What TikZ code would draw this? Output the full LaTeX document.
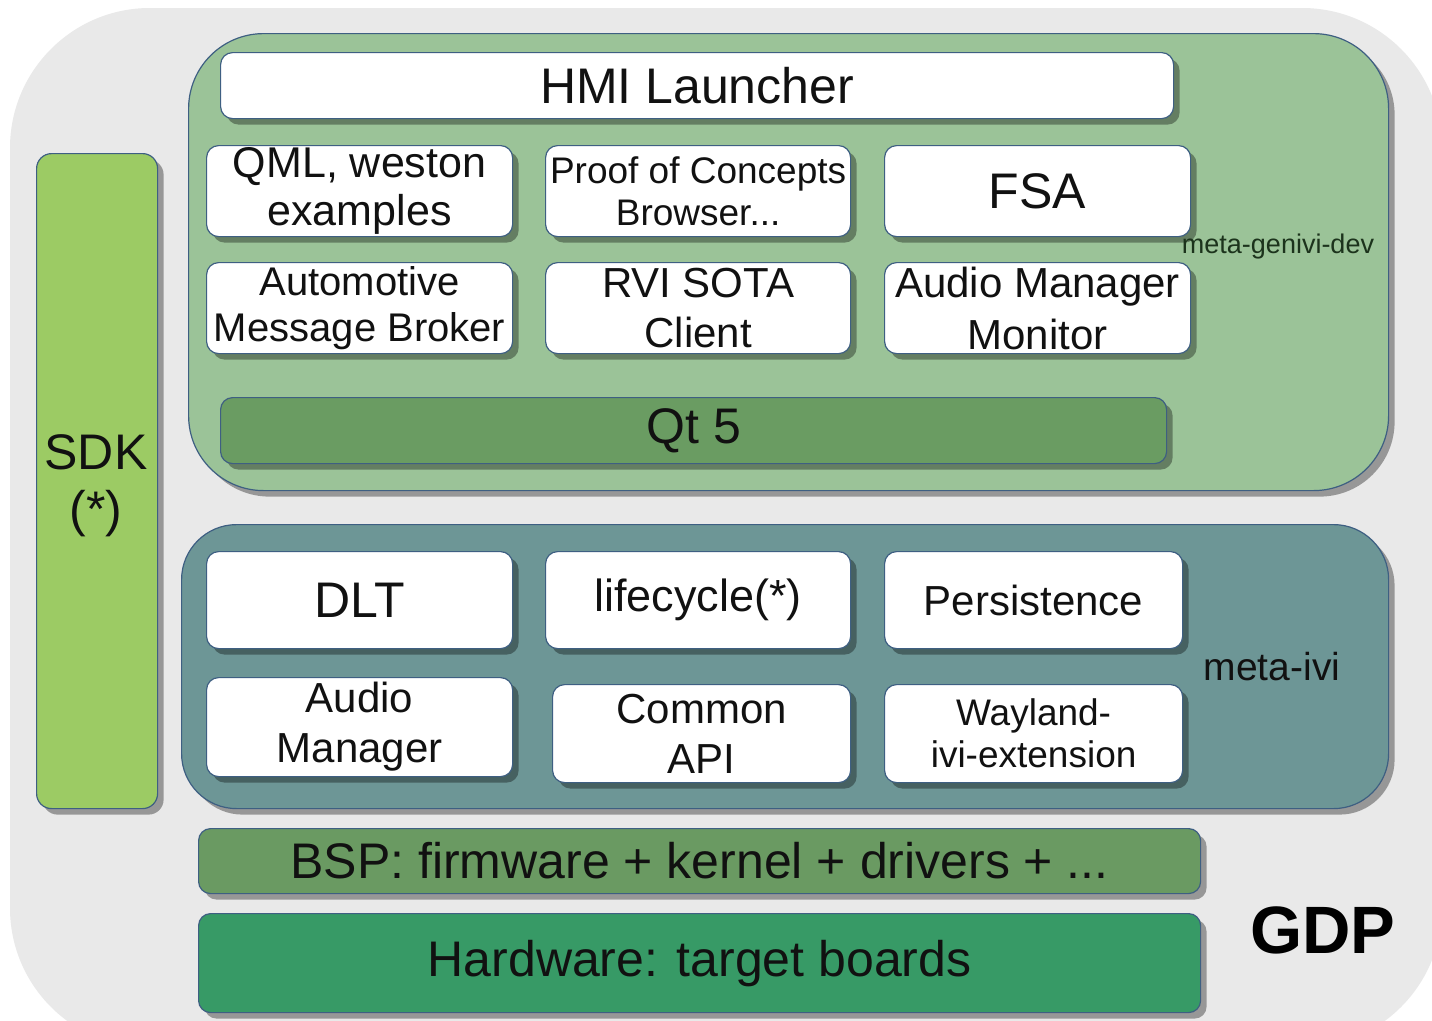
\documentclass[tikz,border=0pt]{standalone}
\usepackage{fontspec}
\setmainfont{Liberation Sans}
\usetikzlibrary{shadows}
\definecolor{bggray}{HTML}{E9E9E9}
\definecolor{edgeblue}{HTML}{3E5F82}
\definecolor{genivigreen}{HTML}{9BC398}
\definecolor{sdkgreen}{HTML}{9CCB64}
\definecolor{qtgreen}{HTML}{6A9C62}
\definecolor{ivigray}{HTML}{6D9696}
\definecolor{bspgreen}{HTML}{6A9A62}
\definecolor{hwgreen}{HTML}{379A66}
\definecolor{textc}{HTML}{111111}
\definecolor{labelgreen}{HTML}{1C331C}
\tikzset{
  edge/.style={draw=edgeblue, line width=1.2pt},
  shad/.style={drop shadow={shadow xshift=6pt, shadow yshift=-6pt, fill=black, opacity=0.35}},
  anybox/.style={edge, shad, anchor=north west, align=center, inner sep=0pt, text=textc},
  wbox/.style={anybox, fill=white, rounded corners=12pt},
  bar/.style={anybox, rounded corners=12pt},
  container/.style={anybox, rounded corners=#1},
  fA/.style={font=\fontsize{50}{57}\selectfont},
  fB/.style={font=\fontsize{42}{#1}\selectfont},
}
\begin{document}
\begin{tikzpicture}[x=1pt,y=-1pt]
\useasboundingbox (0,0) rectangle (1432,1020);
\clip (0,0) rectangle (1432,1020);
\fill[white] (0,0) rectangle (1432,1020);
% GDP background
\fill[bggray, rounded corners=140pt] (10,8) rectangle (1442,1048);

% SDK
\node[container=15pt, fill=sdkgreen, minimum width=121pt, minimum height=655pt] (sdkbar) at (36,153) {};
\node[fA, text=textc, align=center] (sdk) at (96,486) {SDK\\(*)};

% meta-genivi-dev
\node[container=75pt, fill=genivigreen, minimum width=1200pt, minimum height=457pt] (genivi) at (188,33) {};
\node[wbox, fA, minimum width=953pt, minimum height=66pt] (hmi) at (220,52) {HMI Launcher};
\node[wbox, font=\fontsize{43}{48}\selectfont, minimum width=306pt, minimum height=91pt] (qml) at (206,145) {QML, weston\\examples};
\node[wbox, font=\fontsize{37}{42}\selectfont, minimum width=305pt, minimum height=91pt] (poc) at (545,145) {Proof of Concepts\\Browser...};
\node[wbox, fA, minimum width=306pt, minimum height=91pt] (fsa) at (884,145) {FSA};
\node[wbox, font=\fontsize{40}{46}\selectfont, minimum width=306pt, minimum height=91pt] (amb) at (206,262) {Automotive\\Message Broker};
\node[wbox, fB=50, minimum width=305pt, minimum height=91pt] (rvi) at (545,262) {RVI SOTA\\Client};
\node[wbox, fB=52, minimum width=306pt, minimum height=91pt] (amm) at (884,262) {Audio Manager\\Monitor};
\node[bar, fA, fill=qtgreen, minimum width=946pt, minimum height=66pt] (qt) at (220,397) {Qt 5};
\node[font=\fontsize{27}{30}\selectfont, text=labelgreen] (lgenivi) at (1278,247) {meta-genivi-dev};

% meta-ivi
\node[container=55pt, fill=ivigray, minimum width=1207pt, minimum height=284pt] (ivi) at (181,524) {};
\node[wbox, fA, minimum width=306pt, minimum height=97pt] (dlt) at (206,551) {DLT};
\node[wbox, font=\fontsize{45}{50}\selectfont, minimum width=305pt, minimum height=97pt] (life) at (545,551) {lifecycle(*)};
\node[wbox, fB=48, minimum width=298pt, minimum height=97pt] (pers) at (884,551) {Persistence};
\node[wbox, fB=50, minimum width=306pt, minimum height=99pt] (am) at (206,677) {Audio\\Manager};
\node[wbox, fB=50, minimum width=298pt, minimum height=98pt] (capi) at (552,684) {Common\\API};
\node[wbox, font=\fontsize{37}{42}\selectfont, minimum width=298pt, minimum height=98pt] (way) at (884,684) {Wayland-\\ivi-extension};
\node[font=\fontsize{39}{44}\selectfont, text=textc] (livi) at (1272,667) {meta-ivi};

% BSP and hardware
\node[bar, fA, fill=bspgreen, minimum width=1002pt, minimum height=65pt] (bsp) at (198,828) {BSP: firmware + kernel + drivers + ...};
\node[bar, fA, fill=hwgreen, minimum width=1002pt, minimum height=99pt] (hw) at (198,913) {Hardware: target boards};
\node[font=\fontsize{67}{70}\bfseries\selectfont, text=black] (gdp) at (1323,930) {GDP};
\end{tikzpicture}
\end{document}
